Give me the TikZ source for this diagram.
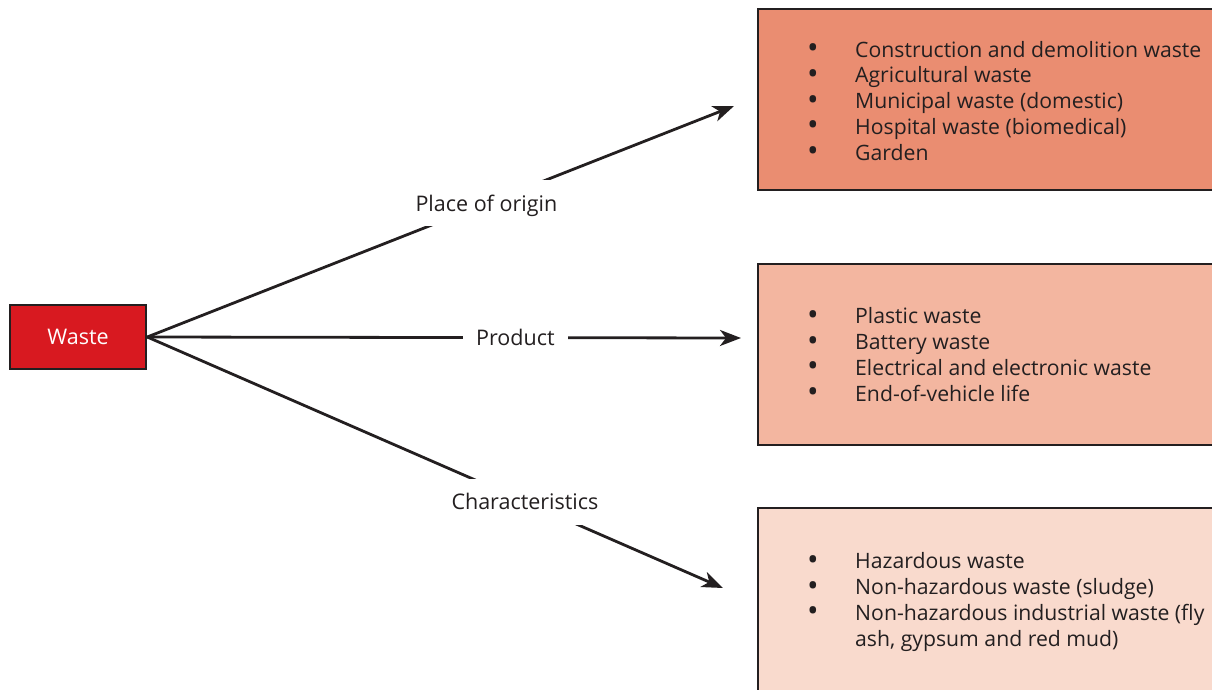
\documentclass[tikz,border=0pt]{standalone}
\usepackage{fontspec}
\setmainfont{Open Sans}
\usetikzlibrary{arrows.meta}
\definecolor{wasteRed}{HTML}{D81920}
\definecolor{boxA}{HTML}{EA8D71}
\definecolor{boxB}{HTML}{F3B6A0}
\definecolor{boxC}{HTML}{F9DACD}
\definecolor{ink}{HTML}{231F20}
\newcommand{\bitem}[1]{\makebox[48pt][l]{\raisebox{-1.5pt}{\scalebox{1.45}{\textbullet}}}#1}
\tikzset{
  wastebox/.style={draw=ink, line width=2.5pt, fill=wasteRed, text=white, minimum width=136pt, minimum height=64pt, inner sep=0pt, text height=15.4pt, text depth=0pt, font=\fontsize{21.5}{25}\selectfont},
  catbox/.style={draw=ink, line width=2.5pt},
  listtext/.style={anchor=base west, inner sep=0pt, align=left, text=ink, font=\fontsize{21.2}{25.75}\selectfont},
  arr/.style={draw=ink, line width=2.8pt, -{Stealth[length=21pt,width=16pt,inset=6pt]}},
  lbl/.style={fill=white, text=ink, inner xsep=13pt, minimum height=46pt, inner ysep=0pt, text height=15.4pt, text depth=0pt, font=\fontsize{21.5}{25}\selectfont},
}
\begin{document}
\begin{tikzpicture}[x=1pt,y=-1pt]
\useasboundingbox (0,0) rectangle (1212,689);
% category boxes
\path[catbox, fill=boxA] (758,9) rectangle (1240,190);
\path[catbox, fill=boxB] (758,264) rectangle (1240,445);
\path[catbox, fill=boxC] (758,508) rectangle (1240,720);
% list texts (base anchor = baseline of last line)
\node[listtext] (listA) at (807,160) {\bitem{Construction and demolition waste}\\\bitem{Agricultural waste}\\\bitem{Municipal waste (domestic)}\\\bitem{Hospital waste (biomedical)}\\\bitem{Garden}};
\node[listtext] (listB) at (807,401) {\bitem{Plastic waste}\\\bitem{Battery waste}\\\bitem{Electrical and electronic waste}\\\bitem{End-of-vehicle life}};
\node[listtext] (listC) at (807,646) {\bitem{Hazardous waste}\\\bitem{Non-hazardous waste (sludge)}\\\bitem{Non-hazardous industrial waste (fly}\\\makebox[48pt]{}ash, gypsum and red mud)};
% waste node
\node[wastebox] (waste) at (78,337) {Waste};
% arrow end points
\coordinate (endA) at (734,106);
\coordinate (endB) at (741,338);
\coordinate (endC) at (723,588);
\draw[arr] (waste.east) -- (endA) node[lbl, pos=0.578] (lblA) {Place of origin};
\draw[arr] (waste.east) -- (endB) node[lbl, pos=0.62] (lblB) {Product};
\draw[arr] (waste.east) -- (endC) node[lbl, pos=0.656] (lblC) {Characteristics};
\end{tikzpicture}
\end{document}
